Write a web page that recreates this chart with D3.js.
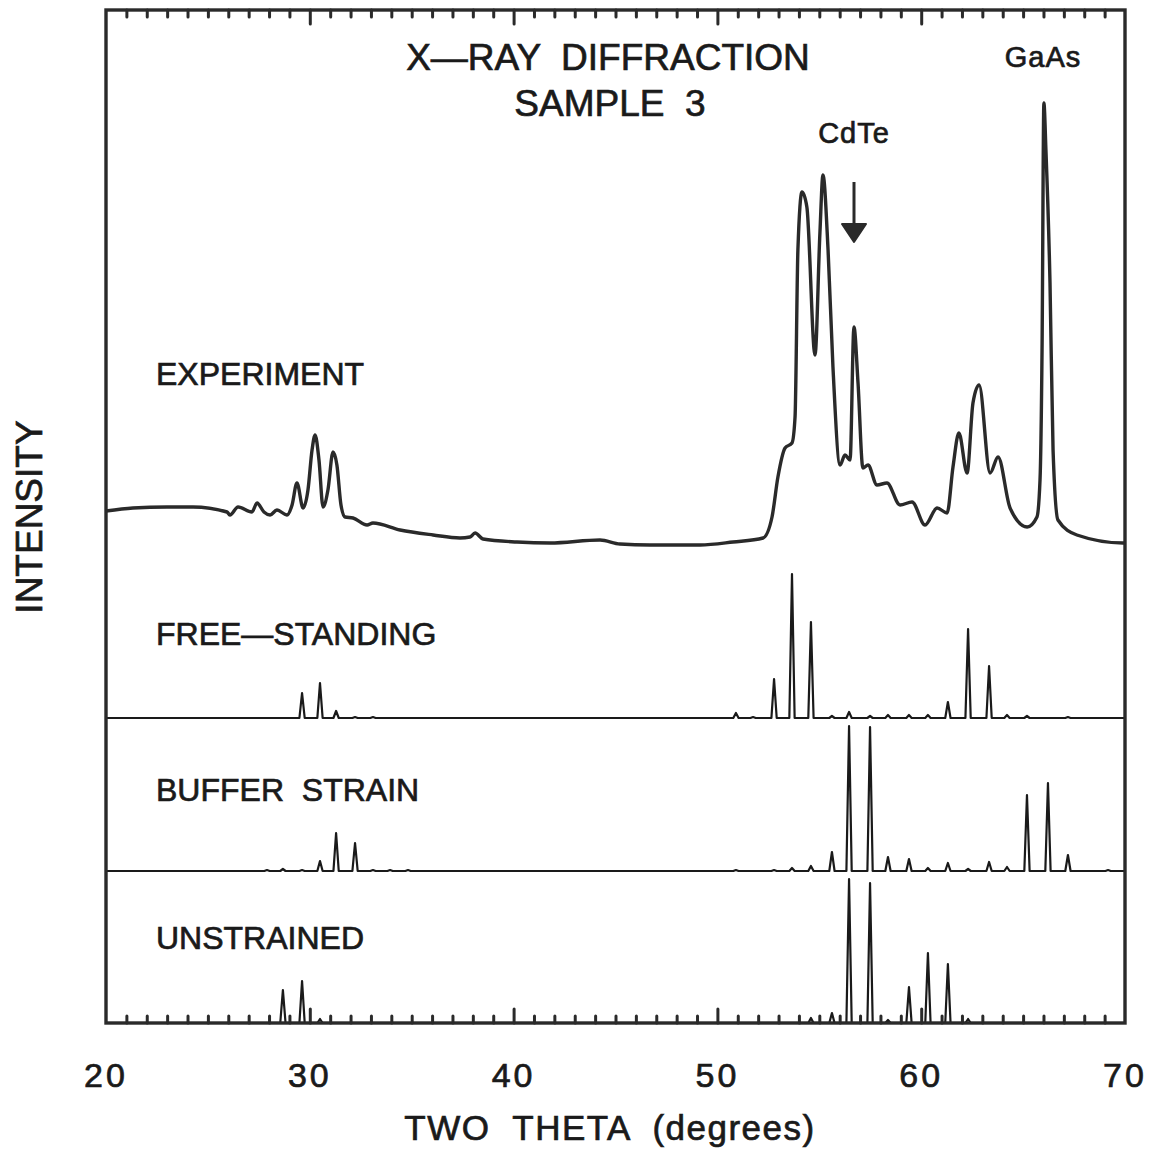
<!DOCTYPE html>
<html>
<head>
<title>X-Ray Diffraction Sample 3</title>
<script src="https://cdn.jsdelivr.net/npm/d3@7"></script>
<style>
  body { margin: 0; background: #fff; }
  text { font-family: "Liberation Sans", Arial, sans-serif; fill: #1a1a1a; stroke: #1a1a1a; stroke-width: 0.7px; }
</style>
</head>
<body>
<svg width="1156" height="1162"></svg>
<script>
// experiment trace: two theta (deg) and intensity (arbitrary units)
var expTheta = [20.0, 21.32, 22.99, 24.27, 25.94, 26.08, 26.48, 27.16, 27.41, 27.75, 28.05, 28.39, 28.88, 29.13, 29.37,
  29.67, 29.91, 30.11, 30.26, 30.45, 30.65, 30.89, 31.14, 31.33, 31.53, 31.73, 32.12, 32.81, 33.10, 34.43, 36.05,
  37.37, 37.86, 38.11, 38.50, 40.17, 41.79, 44.24, 45.22, 46.69, 49.15, 50.77, 52.24, 52.68, 52.97, 53.32, 53.66,
  53.81, 53.95, 54.15, 54.39, 54.79, 55.03, 55.18, 55.43, 55.67, 56.02, 56.26, 56.51, 56.70, 56.90, 57.14, 57.39,
  57.83, 58.32, 58.96, 59.55, 60.19, 60.78, 61.27, 61.56, 61.85, 62.25, 62.54, 62.84, 63.38, 63.77, 64.36, 65.20,
  65.68, 65.83, 65.93, 66.02, 66.12, 66.32, 66.47, 66.71, 67.64, 69.90, 70.0];
var expIntensity = [49, 52, 53, 53, 48, 45, 53, 48, 57, 48, 45, 50, 45, 55, 77,
  52, 70, 110, 125, 100, 53, 70, 108, 95, 55, 43, 42, 35, 37, 30, 25,
  22, 23, 27, 21, 18, 17, 20, 16, 15, 15, 18, 22, 43, 83, 112, 117,
  143, 310, 368, 353, 205, 327, 385, 310, 193, 95, 105, 100, 233, 177, 92, 95,
  75, 77, 55, 58, 35, 52, 47, 93, 127, 87, 157, 175, 87, 103, 52, 33,
  43, 80, 210, 457, 410, 277, 110, 40, 25, 17, 17];

// calculated patterns: peak positions (deg) and heights
var freeTheta  = [29.62, 30.50, 31.29, 32.22, 33.10, 50.91, 51.75, 52.78, 53.66, 54.59, 55.62, 56.46, 57.49, 58.37, 59.40, 60.33, 61.31, 62.30, 63.33, 64.21, 65.19, 67.20];
var freeHeight = [25, 35, 7, 1, 1, 5, 1, 39, 144, 96, 2, 6, 2, 3, 3, 3, 16, 89, 52, 3, 2, 1];

var bufferTheta  = [27.90, 28.68, 29.62, 30.50, 31.29, 32.22, 33.10, 33.94, 34.82, 50.91, 52.78, 53.66, 54.59, 55.62, 56.46, 57.49, 58.37, 59.40, 60.33, 61.31, 62.30, 63.33, 64.21, 65.19, 66.22, 67.20, 69.17];
var bufferHeight = [1, 2, 1, 10, 38, 28, 1, 1, 1, 1, 1, 3, 5, 19, 145, 144, 14, 12, 3, 8, 2, 9, 4, 76, 88, 16, 1];

var unstrTheta  = [28.68, 29.62, 30.50, 54.59, 55.62, 56.46, 57.49, 58.37, 59.40, 60.33, 61.31, 62.30];
var unstrHeight = [33, 42, 4, 5, 10, 144, 140, 3, 36, 70, 59, 4];

var xTicks = [20, 30, 40, 50, 60, 70];

var svg = d3.select("svg");
var plotLeft = 106, plotRight = 1125, plotTop = 10, plotBottom = 1023;

var x = d3.scaleLinear().domain([20, 70]).range([plotLeft, plotRight]);
var yExp = d3.scaleLinear().domain([0, 460]).range([560, 100]);
var yFree = d3.scaleLinear().domain([0, 150]).range([718, 568]);
var yBuffer = d3.scaleLinear().domain([0, 150]).range([871, 721]);
var yUnstr = d3.scaleLinear().domain([0, 150]).range([1023, 873]);

// experiment curve
var expData = expTheta.map(function(t, i) { return [t, expIntensity[i]]; });
svg.append("path")
  .datum(expData)
  .attr("fill", "none")
  .attr("stroke", "#2a2a2a")
  .attr("stroke-width", 3.4)
  .attr("stroke-linejoin", "round")
  .attr("d", d3.line()
    .x(function(d) { return x(d[0]); })
    .y(function(d) { return yExp(d[1]); })
    .curve(d3.curveMonotoneX));

// stick patterns drawn as narrow triangles on their baseline
function pattern(thetas, heights, yScale) {
  var hw = 0.13;
  var pts = [[20, 0]];
  thetas.forEach(function(t, i) {
    pts.push([t - hw, 0], [t, heights[i]], [t + hw, 0]);
  });
  pts.push([70, 0]);
  svg.append("path")
    .datum(pts)
    .attr("fill", "none")
    .attr("stroke", "#1a1a1a")
    .attr("stroke-width", 2.2)
    .attr("stroke-linejoin", "round")
    .attr("d", d3.line()
      .x(function(d) { return x(d[0]); })
      .y(function(d) { return yScale(d[1]); }));
}
pattern(freeTheta, freeHeight, yFree);
pattern(bufferTheta, bufferHeight, yBuffer);
pattern(unstrTheta, unstrHeight, yUnstr);

// frame
svg.append("rect")
  .attr("x", plotLeft).attr("y", plotTop)
  .attr("width", plotRight - plotLeft).attr("height", plotBottom - plotTop)
  .attr("fill", "none")
  .attr("stroke", "#2a2a2a")
  .attr("stroke-width", 3.4);

// bottom and top ticks every degree, longer at the labelled ones
var minor = d3.range(21, 70);
var bottomAxis = d3.axisTop(x).tickValues(minor).tickSize(0).tickFormat("");
var gb = svg.append("g").attr("transform", "translate(0," + plotBottom + ")").call(bottomAxis);
gb.select(".domain").remove();
gb.selectAll(".tick line")
  .attr("y2", function(d) { return d % 10 === 0 ? -14 : -7; })
  .attr("stroke", "#2a2a2a").attr("stroke-width", 3).attr("stroke-linecap", "round");

var topAxis = d3.axisBottom(x).tickValues(minor).tickSize(0).tickFormat("");
var gt = svg.append("g").attr("transform", "translate(0," + plotTop + ")").call(topAxis);
gt.select(".domain").remove();
gt.selectAll(".tick line")
  .attr("y2", function(d) { return d % 10 === 0 ? 14 : 7; })
  .attr("stroke", "#2a2a2a").attr("stroke-width", 3).attr("stroke-linecap", "round");

// tick labels
svg.selectAll(".xlab")
  .data(xTicks)
  .enter().append("text")
  .attr("class", "xlab")
  .attr("x", function(d) { return x(d); })
  .attr("y", 1087)
  .attr("text-anchor", "middle")
  .attr("font-size", 34)
  .attr("letter-spacing", 3)
  .text(function(d) { return d; });

// axis titles
svg.append("text")
  .attr("x", 610).attr("y", 1140)
  .attr("text-anchor", "middle")
  .attr("font-size", 35)
  .attr("letter-spacing", 1.5)
  .attr("xml:space", "preserve")
  .text("TWO  THETA  (degrees)");

svg.append("text")
  .attr("transform", "translate(42,517) rotate(-90)")
  .attr("text-anchor", "middle")
  .attr("font-size", 37)
  .text("INTENSITY");

// title
svg.append("text")
  .attr("x", 608).attr("y", 70)
  .attr("text-anchor", "middle")
  .attr("font-size", 37)
  .attr("xml:space", "preserve")
  .text("X\u2014RAY  DIFFRACTION");
svg.append("text")
  .attr("x", 610).attr("y", 116)
  .attr("text-anchor", "middle")
  .attr("font-size", 37)
  .attr("xml:space", "preserve")
  .text("SAMPLE  3");

// panel labels
var panelLabels = [["EXPERIMENT", 385], ["FREE\u2014STANDING", 645], ["BUFFER  STRAIN", 801], ["UNSTRAINED", 949]];
svg.selectAll(".plab")
  .data(panelLabels)
  .enter().append("text")
  .attr("class", "plab")
  .attr("x", 156)
  .attr("y", function(d) { return d[1]; })
  .attr("font-size", 32)
  .attr("xml:space", "preserve")
  .text(function(d) { return d[0]; });

// peak annotations
svg.append("text")
  .attr("x", 854).attr("y", 143)
  .attr("text-anchor", "middle")
  .attr("font-size", 29)
  .attr("letter-spacing", 1)
  .text("CdTe");
svg.append("text")
  .attr("x", 1043).attr("y", 67)
  .attr("text-anchor", "middle")
  .attr("font-size", 29)
  .attr("letter-spacing", 1)
  .text("GaAs");

svg.append("line")
  .attr("x1", 854).attr("x2", 854)
  .attr("y1", 182).attr("y2", 228)
  .attr("stroke", "#2a2a2a").attr("stroke-width", 3);
svg.append("path")
  .attr("d", "M842,224L866,224L854,242Z")
  .attr("fill", "#2a2a2a")
  .attr("stroke", "#2a2a2a")
  .attr("stroke-width", 2)
  .attr("stroke-linejoin", "round");
</script>
</body>
</html>
